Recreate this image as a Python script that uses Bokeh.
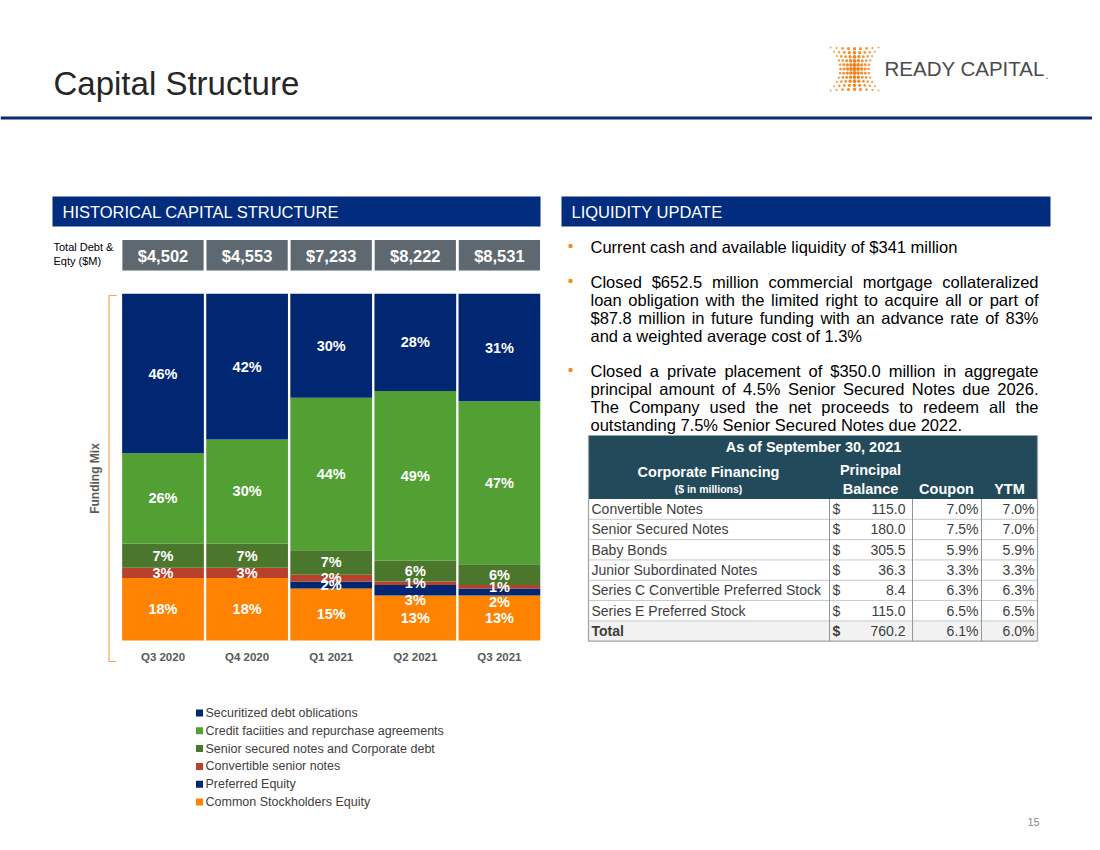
import numpy as np
from bokeh.plotting import figure
from bokeh.models import Range1d
from bokeh.core.properties import value
from bokeh.embed import file_html
from bokeh.resources import INLINE

# ---------------- data ----------------
quarters = ["Q3 2020", "Q4 2020", "Q1 2021", "Q2 2021", "Q3 2021"]
total_debt_equity = ["$4,502", "$4,553", "$7,233", "$8,222", "$8,531"]

# stacked from bottom to top (percent of funding mix)
series_names = ["Common Stockholders Equity", "Preferred Equity", "Convertible senior notes",
                "Senior secured notes and Corporate debt",
                "Credit faciities and repurchase agreements", "Securitized debt oblications"]
common_equity = [18, 18, 15, 13, 13]
preferred_equity = [0, 0, 2, 3, 2]
convertible_notes = [3, 3, 2, 1, 1]
senior_secured = [7, 7, 7, 6, 6]
credit_facilities = [26, 30, 44, 49, 47]
securitized_debt = [46, 42, 30, 28, 31]
series_colors = ["#FF8300", "#012672", "#B9402B", "#4A772C", "#52A034", "#012672"]

fin_names = ["Convertible Notes", "Senior Secured Notes", "Baby Bonds", "Junior Subordinated Notes",
             "Series C Convertible Preferred Stock", "Series E Preferred Stock", "Total"]
fin_balance = [115.0, 180.0, 305.5, 36.3, 8.4, 115.0, 760.2]
fin_coupon = [7.0, 7.5, 5.9, 3.3, 6.3, 6.5, 6.1]
fin_ytm = [7.0, 7.0, 5.9, 3.3, 6.3, 6.5, 6.0]

liquidity_paragraphs = [
    ["Current cash and available liquidity of $341 million"],
    ["Closed $652.5 million commercial mortgage collateralized",
     "loan obligation with the limited right to acquire all or part of",
     "$87.8 million in future funding with an advance rate of 83%",
     "and a weighted average cost of 1.3%"],
    ["Closed a private placement of $350.0 million in aggregate",
     "principal amount of 4.5% Senior Secured Notes due 2026.",
     "The Company used the net proceeds to redeem all the",
     "outstanding 7.5% Senior Secured Notes due 2022."],
]

# ---------------- page figure (page pixel coordinates) ----------------
W, H = 1092, 842
FONT = "Liberation Sans"
NAVY = "#022C7E"

p = figure(width=W, height=H, x_range=Range1d(0, W), y_range=Range1d(H, 0),
           output_backend="svg", toolbar_location=None, tools="",
           x_axis_location=None, y_axis_location=None, min_border=0,
           outline_line_color=None, background_fill_color="white", border_fill_color="white")
p.grid.visible = False


def put_text(xs, ys, texts, size, color="#000000", bold=False, align="left",
             baseline="middle", angle=0.0, font=FONT, **kw):
    texts = list(texts) if isinstance(texts, (list, tuple)) else [texts]
    n = len(texts)
    xs = [float(v) for v in xs] if isinstance(xs, (list, tuple, np.ndarray)) else [float(xs)] * n
    ys = [float(v) for v in ys] if isinstance(ys, (list, tuple, np.ndarray)) else [float(ys)] * n
    p.text(x=xs, y=ys, text=texts, text_font=value(font), text_font_size=f"{size}px",
           text_font_style="bold" if bold else "normal", text_color=color,
           text_align=align, text_baseline=baseline, angle=angle, **kw)


def box(l, r, t, b, color):
    p.quad(left=[l], right=[r], top=[t], bottom=[b], fill_color=color, line_color=None)


# ---------------- header ----------------
put_text(53, 83, "Capital Structure", 33, color="#262626")
box(0, W, 116, 119, "#0B2D6E")

# logo: dot grid + wordmark
lx, ly, lsz, lcol = [], [], [], []
rows, cols = 11, 9
for r in range(rows):
    v = (r - (rows - 1) / 2) / ((rows - 1) / 2)
    hw = 14 + 10 * v * v
    yy = 47 + r * 4.3
    for c in range(cols):
        u = (c - (cols - 1) / 2) / ((cols - 1) / 2)
        lx.append(854 + u * hw)
        ly.append(yy - 1.2 * np.sign(v) * (1 - u * u) * abs(v))
        s = 4.2 - 1.5 * abs(u) - 0.8 * abs(v)
        lsz.append(max(s, 2.0))
        t = min(1.0, abs(u) * 0.6 + abs(v) * 0.35)
        rr = int(238 + (247 - 238) * t)
        gg = int(124 + (170 - 124) * t)
        bb = int(18 + (85 - 18) * t)
        lcol.append(f"#{rr:02x}{gg:02x}{bb:02x}")
p.scatter(x=lx, y=ly, size=lsz, marker="circle", fill_color=lcol, line_color=None)
put_text(884, 68, "READY CAPITAL", 20.5, color="#4B4B4B")
put_text(1045, 74, ".", 11, color="#4B4B4B")

# ---------------- section header bars ----------------
box(52, 540, 196, 226, NAVY)
put_text(62, 211.5, "HISTORICAL CAPITAL STRUCTURE", 16.5, color="white")
box(561, 1050, 196, 226, NAVY)
put_text(571, 211.5, "LIQUIDITY UPDATE", 16.5, color="white")

# ---------------- bar chart (own scales mapped into the page) ----------------
BAR0_X, BAR_PITCH = 162.5, 84.1           # page x of first bar centre, bar pitch
BASE_Y, TOP_Y = 640.0, 293.3              # page y of 0% and 100%
ppp = (BASE_Y - TOP_Y) / 100.0
p.extra_x_ranges = {"bx": Range1d((0 - BAR0_X) / BAR_PITCH, (W - BAR0_X) / BAR_PITCH)}
p.extra_y_ranges = {"by": Range1d(-(H - BASE_Y) / ppp, BASE_Y / ppp)}

idx = np.arange(len(quarters), dtype=float)
stack = np.array([common_equity, preferred_equity, convertible_notes, senior_secured,
                  credit_facilities, securitized_debt], dtype=float)
tops = np.cumsum(stack, axis=0)
bots = tops - stack
for k in range(stack.shape[0]):
    p.vbar(x=idx.tolist(), bottom=bots[k].tolist(), top=tops[k].tolist(), width=0.972,
           fill_color=series_colors[k], line_color=None, x_range_name="bx", y_range_name="by")

# segment labels (pixel nudges for the crowded small segments)
nudge_px = {(1, 3): 10, (1, 4): 10}
lab_x, lab_y, lab_t = [], [], []
for k in range(stack.shape[0]):
    for i in range(len(quarters)):
        val = stack[k, i]
        if val <= 0:
            continue
        lab_x.append(float(idx[i]))
        lab_y.append(float((bots[k, i] + tops[k, i]) / 2 - nudge_px.get((k, i), 0) / ppp))
        lab_t.append(f"{int(val)}%")
p.text(x=lab_x, y=lab_y, text=lab_t, text_font=value(FONT), text_font_size="14.5px",
       text_font_style="bold", text_color="white", text_align="center", text_baseline="middle",
       x_range_name="bx", y_range_name="by")

# category labels
p.text(x=idx.tolist(), y=[656.0] * len(quarters), text=quarters, text_font=value(FONT),
       text_font_size="11.5px", text_font_style="bold", text_color="#595959",
       text_align="center", text_baseline="middle", x_range_name="bx")

# totals row
p.quad(left=(idx - 0.483).tolist(), right=(idx + 0.483).tolist(), top=[239.5] * 5, bottom=[270.0] * 5,
       fill_color="#5E6871", line_color=None, x_range_name="bx")
p.text(x=idx.tolist(), y=[255.5] * 5, text=total_debt_equity, text_font=value(FONT),
       text_font_size="16.5px", text_font_style="bold", text_color="white",
       text_align="center", text_baseline="middle", x_range_name="bx")
put_text(53, 246, "Total Debt &", 11)
put_text(53, 260, "Eqty ($M)", 11)

# y-axis title + bracket
put_text(94, 478, "Funding Mix", 12, color="#595959", bold=True, align="center", angle=np.pi / 2)
p.line(x=[116, 108.5, 108.5, 116], y=[295, 295, 661, 661], line_color="#F2A65A", line_width=1.2)

# legend (top to bottom)
leg_y = [712.5 + 17.8 * j for j in range(len(series_names))]
leg_names = series_names[::-1]
leg_cols = series_colors[::-1]
p.scatter(x=[199.0] * len(leg_y), y=leg_y, marker="square", size=7, fill_color=leg_cols, line_color=None)
put_text(205, leg_y, leg_names, 12.5, color="#404040")

# ---------------- liquidity text (justified) ----------------
HELV = dict(zip(" !\"#$%&'()*+,-./0123456789:;<=>?@ABCDEFGHIJKLMNOPQRSTUVWXYZ[\\]^_`abcdefghijklmnopqrstuvwxyz",
                [278, 278, 355, 556, 556, 889, 667, 191, 333, 333, 389, 584, 278, 333, 278, 278]
                + [556] * 10 + [278, 278, 584, 584, 584, 556, 1015]
                + [667, 667, 722, 722, 667, 611, 778, 722, 278, 500, 667, 556, 833, 722, 778, 667, 778,
                   722, 667, 611, 722, 667, 944, 667, 667, 611]
                + [278, 278, 278, 469, 556, 333]
                + [556, 556, 500, 556, 556, 278, 556, 556, 222, 222, 500, 222, 833, 556, 556, 556, 556,
                   333, 500, 278, 556, 500, 722, 500, 500, 500]))


def tw(s, size):
    return sum(HELV.get(ch, 556) for ch in s) * size / 1000.0


FS = 16.5
TX_L, TX_R = 590.0, 1038.0
para_first = [246.0, 281.0, 370.0]      # vertical centre of first line of each paragraph
LINE_H = 18.0
wx, wy, wt = [], [], []
for pi, para in enumerate(liquidity_paragraphs):
    p.scatter(x=[570.0], y=[para_first[pi] - 0.5], marker="circle", size=4.5,
              fill_color="#F28C28", line_color=None)
    for li, line in enumerate(para):
        yc = para_first[pi] + li * LINE_H
        words = line.split(" ")
        justify = li < len(para) - 1 and len(words) > 1
        widths = [tw(w_, FS) for w_ in words]
        gap = (TX_R - TX_L - sum(widths)) / (len(words) - 1) if justify else tw(" ", FS)
        x = TX_L
        for w_, wd in zip(words, widths):
            wx.append(x)
            wy.append(yc)
            wt.append(w_)
            x += wd + gap
put_text(wx, wy, wt, FS, color="#000000")

# ---------------- financing table ----------------
col_x = [588.0, 829.0, 912.0, 981.0, 1037.0]
T_TOP, H2_BOT, T_BOT = 435.0, 498.5, 640.7
row_h = (T_BOT - H2_BOT) / len(fin_names)
box(col_x[0], col_x[-1], T_TOP, H2_BOT, "#234A5B")
box(col_x[0], col_x[-1], T_BOT - row_h, T_BOT, "#F2F2F2")
hy = [H2_BOT + row_h * k for k in range(1, len(fin_names))]
p.segment(x0=[col_x[0]] * len(hy), x1=[col_x[-1]] * len(hy), y0=hy, y1=hy, line_color="#C3C9CD", line_width=1)
p.segment(x0=col_x[1:-1], x1=col_x[1:-1], y0=[H2_BOT] * 3, y1=[T_BOT] * 3, line_color="#8E979C", line_width=1)
p.line(x=[col_x[0], col_x[0], col_x[-1], col_x[-1]], y=[T_TOP, T_BOT, T_BOT, T_TOP],
       line_color="#9AA3A8", line_width=1.2)

put_text(813, 446, "As of September 30, 2021", 14.5, color="white", bold=True, align="center")
put_text(708, 471, "Corporate Financing", 14.5, color="white", bold=True, align="center")
put_text(708, 488.5, "($ in millions)", 10.5, color="white", bold=True, align="center")
put_text(870, 469, "Principal", 14.5, color="white", bold=True, align="center")
put_text(870, 488, "Balance", 14.5, color="white", bold=True, align="center")
put_text(946, 488, "Coupon", 14.5, color="white", bold=True, align="center")
put_text(1009, 488, "YTM", 14.5, color="white", bold=True, align="center")

row_c = [H2_BOT + row_h * (k + 0.5) for k in range(len(fin_names))]
TC = "#3D3D3D"
n_body = len(fin_names) - 1
put_text(591, row_c[:n_body], fin_names[:n_body], 14, color=TC)
put_text(591, row_c[n_body], fin_names[n_body], 14, color=TC, bold=True)
put_text(832, row_c[:n_body], ["$"] * n_body, 14, color=TC)
put_text(832, row_c[n_body], "$", 14, color=TC, bold=True)
put_text(905, row_c, [f"{b:.1f}" for b in fin_balance], 14, color=TC, align="right")
put_text(978, row_c, [f"{c:.1f}%" for c in fin_coupon], 14, color=TC, align="right")
put_text(1034, row_c, [f"{y:.1f}%" for y in fin_ytm], 14, color=TC, align="right")

# page number
put_text(1033, 821, "15", 11, color="#8C8C8C", align="center")

open("out.html", "w").write(file_html(p, INLINE))
